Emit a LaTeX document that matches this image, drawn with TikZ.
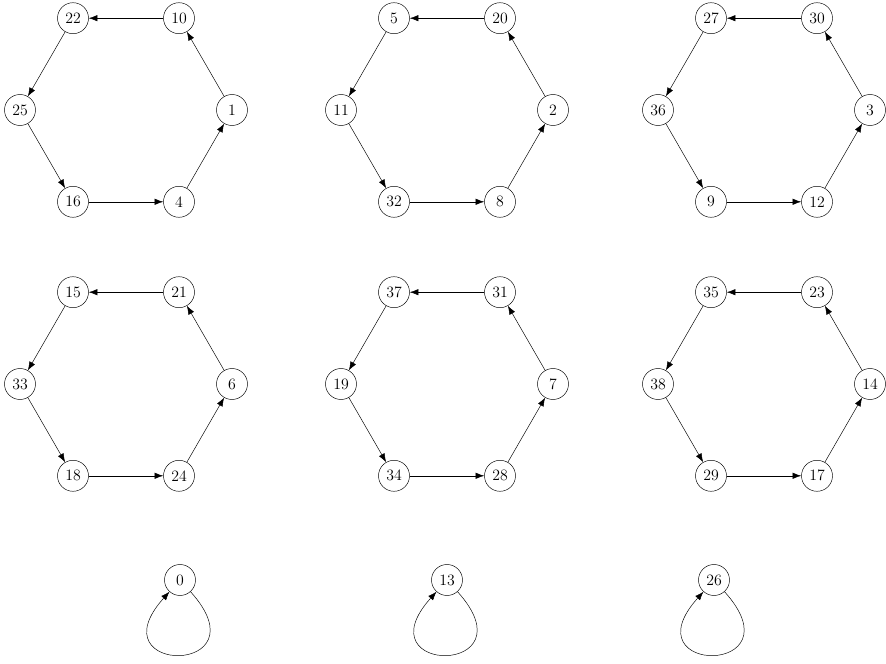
\documentclass[tikz,border=0pt]{standalone}
\usepackage{tikz}
\usetikzlibrary{arrows.meta}

\begin{document}
\begin{tikzpicture}[
x=0.03cm, y=0.03cm,
vertex/.style={draw, circle, minimum size=0.93cm, inner sep=0pt, font=\fontsize{13.5}{15}\selectfont},
arr/.style={-{Latex[length=2.6mm, width=1.9mm]}}
]
\useasboundingbox (0,0) rectangle (886,663);
% six cycles of length six
\foreach \h/\cx/\cy/\la/\lb/\lc/\ld/\le/\lf in {
  1/126/553/25/22/10/1/4/16,
  2/447/553/11/5/20/2/8/32,
  3/764/553/36/27/30/3/12/9,
  4/126/279/33/15/21/6/24/18,
  5/447/279/19/37/31/7/28/34,
  6/764/279/38/35/23/14/17/29}
{
  \node[vertex] (h\h-a) at ([shift={(180:106)}]\cx,\cy) {\la};
  \node[vertex] (h\h-b) at ([shift={(120:106)}]\cx,\cy) {\lb};
  \node[vertex] (h\h-c) at ([shift={(60:106)}]\cx,\cy) {\lc};
  \node[vertex] (h\h-d) at ([shift={(0:106)}]\cx,\cy) {\ld};
  \node[vertex] (h\h-e) at ([shift={(-60:106)}]\cx,\cy) {\le};
  \node[vertex] (h\h-f) at ([shift={(-120:106)}]\cx,\cy) {\lf};
  \draw[arr] (h\h-f) -- (h\h-e);
  \draw[arr] (h\h-e) -- (h\h-d);
  \draw[arr] (h\h-d) -- (h\h-c);
  \draw[arr] (h\h-c) -- (h\h-b);
  \draw[arr] (h\h-b) -- (h\h-a);
  \draw[arr] (h\h-a) -- (h\h-f);
}
% fixed points
\node[vertex] (z0) at (180,83) {0};
\node[vertex] (z13) at (447,83) {13};
\node[vertex] (z26) at (714,83) {26};
\draw[arr] (z0) to[out=-48, in=-132, distance=3.4cm] (z0);
\draw[arr] (z13) to[out=-48, in=-132, distance=3.4cm] (z13);
\draw[arr] (z26) to[out=-48, in=-132, distance=3.4cm] (z26);
\end{tikzpicture}
\end{document}
